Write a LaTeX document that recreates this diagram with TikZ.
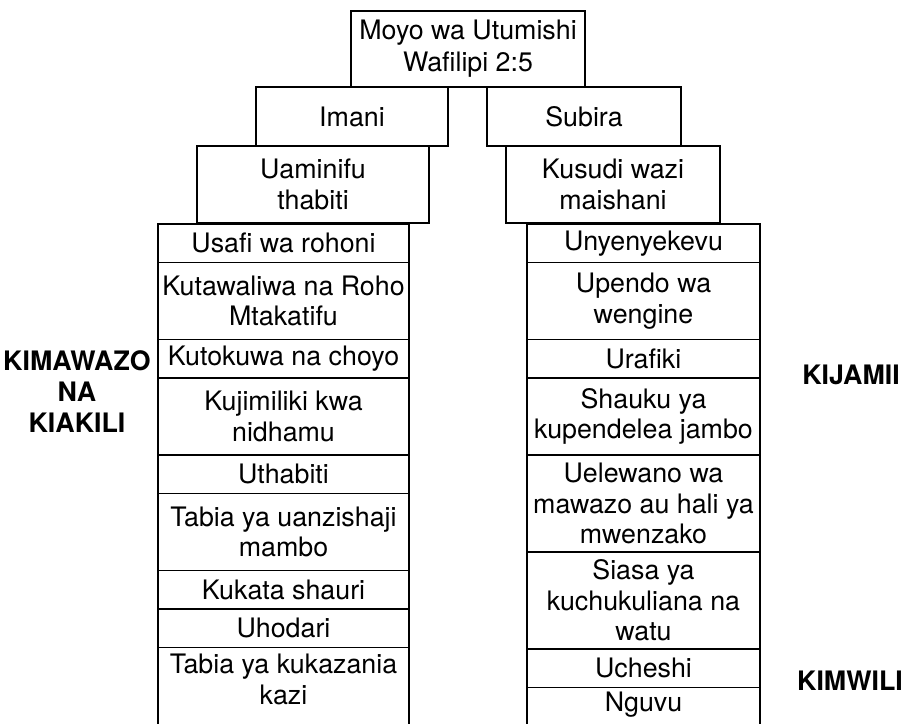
\documentclass[tikz,border=0pt]{standalone}
\usepackage{fontspec}
\setmainfont{TeX Gyre Heros}
\usetikzlibrary{positioning}

\tikzset{
  cell/.style={draw, line width=0.8pt, align=center, inner sep=0pt, outer sep=0pt,
    font=\fontsize{13.4}{15.2}\selectfont},
  opencell/.style={cell, draw=none},
  one/.style={minimum height=19.25pt},
  two/.style={minimum height=38.5pt},
  three/.style={minimum height=48.5pt},
  lcol/.style={minimum width=125.5pt},
  rcol/.style={minimum width=116.5pt},
  side/.style={align=center, font=\fontsize{13.4}{15.5}\selectfont\bfseries}
}

\begin{document}
\begin{tikzpicture}[x=0.5pt, y=-0.5pt]
  \useasboundingbox (0,0) rectangle (905,723);
  \clip (0,0) rectangle (905,723);

  % top of the tree
  \node[cell, minimum width=117pt, minimum height=38pt, font=\fontsize{13.4}{16}\selectfont]
    (moyo) at (468,49) {Moyo wa Utumishi\\Wafilipi 2:5};
  \node[cell, minimum width=96pt, minimum height=29.5pt] (imani) at (352,116.5) {Imani};
  \node[cell, minimum width=97pt, minimum height=29.5pt] (subira) at (584,116.5) {Subira};
  \node[cell, minimum width=116pt, minimum height=38.5pt] (uaminifu) at (313,184.5) {Uaminifu\\thabiti};
  \node[cell, minimum width=107pt, minimum height=38.5pt] (kusudi) at (613,184.5) {Kusudi wazi\\maishani};

  % left column
  \node[cell, lcol, one, anchor=north] (usafi) at (283.5,224) {Usafi wa rohoni};
  \node[cell, lcol, two, below=0pt of usafi] (kutawaliwa) {Kutawaliwa na Roho\\Mtakatifu};
  \node[cell, lcol, one, below=0pt of kutawaliwa] (choyo) {Kutokuwa na choyo};
  \node[cell, lcol, two, below=0pt of choyo] (nidhamu) {Kujimiliki kwa\\nidhamu};
  \node[cell, lcol, one, below=0pt of nidhamu] (uthabiti) {Uthabiti};
  \node[cell, lcol, two, below=0pt of uthabiti] (uanzishaji) {Tabia ya uanzishaji\\mambo};
  \node[cell, lcol, one, below=0pt of uanzishaji] (shauri) {Kukata shauri};
  \node[cell, lcol, one, below=0pt of shauri] (uhodari) {Uhodari};
  \node[opencell, lcol, minimum height=32pt, below=0pt of uhodari] (kazi) {Tabia ya kukazania\\kazi};
  \draw[line width=0.8pt] (kazi.north west) -- ++(0,100);
  \draw[line width=0.8pt] (kazi.north east) -- ++(0,100);

  % right column
  \node[cell, rcol, one, anchor=north] (unyenyekevu) at (643.5,224) {Unyenyekevu};
  \node[cell, rcol, two, below=0pt of unyenyekevu] (upendo) {Upendo wa\\wengine};
  \node[cell, rcol, one, below=0pt of upendo] (urafiki) {Urafiki};
  \node[cell, rcol, two, below=0pt of urafiki] (shauku) {Shauku ya\\kupendelea jambo};
  \node[cell, rcol, three, below=0pt of shauku] (uelewano) {Uelewano wa\\mawazo au hali ya\\mwenzako};
  \node[cell, rcol, three, below=0pt of uelewano] (siasa) {Siasa ya\\kuchukuliana na\\watu};
  \node[cell, rcol, one, below=0pt of siasa] (ucheshi) {Ucheshi};
  \node[opencell, rcol, minimum height=17pt, below=0pt of ucheshi] (nguvu) {Nguvu};
  \draw[line width=0.8pt] (nguvu.north west) -- ++(0,100);
  \draw[line width=0.8pt] (nguvu.north east) -- ++(0,100);

  % side labels
  \node[side] (kimawazo) at (77,392) {KIMAWAZO\\NA\\KIAKILI};
  \node[side] (kijamii) at (851,375) {KIJAMII};
  \node[side] (kimwili) at (850,681) {KIMWILI};
\end{tikzpicture}
\end{document}
